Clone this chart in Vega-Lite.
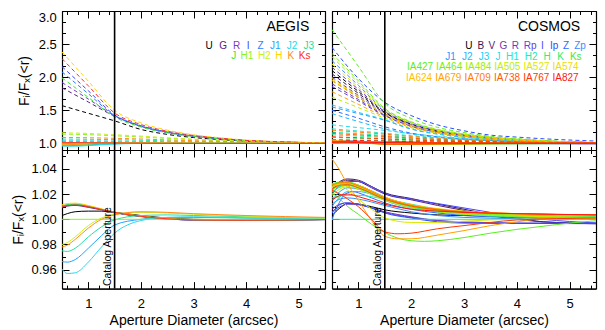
{
"$schema":"https://vega.github.io/schema/vega-lite/v6.json",
"background":"white",
"padding":{"left":11,"top":9,"right":4,"bottom":4},
"datasets":{
"aperture":[{"x":1.5,"label":"Catalog Aperture"}],
"aegis":[
{"b":"U","k":"r","x":0.5,"y":1.57},{"b":"U","k":"r","x":1,"y":1.455},{"b":"U","k":"r","x":1.5,"y":1.34},{"b":"U","k":"r","x":2,"y":1.211},{"b":"U","k":"r","x":2.5,"y":1.136},{"b":"U","k":"r","x":3,"y":1.088},{"b":"U","k":"r","x":3.5,"y":1.058},{"b":"U","k":"r","x":4,"y":1.034},{"b":"U","k":"r","x":4.5,"y":1.02},{"b":"U","k":"r","x":5.5,"y":1.005},
{"b":"G","k":"r","x":0.5,"y":1.84},{"b":"G","k":"r","x":1,"y":1.625},{"b":"G","k":"r","x":1.5,"y":1.41},{"b":"G","k":"r","x":2,"y":1.254},{"b":"G","k":"r","x":2.5,"y":1.164},{"b":"G","k":"r","x":3,"y":1.107},{"b":"G","k":"r","x":3.5,"y":1.07},{"b":"G","k":"r","x":4,"y":1.041},{"b":"G","k":"r","x":4.5,"y":1.025},{"b":"G","k":"r","x":5.5,"y":1.006},
{"b":"R","k":"r","x":0.5,"y":1.92},{"b":"R","k":"r","x":1,"y":1.67},{"b":"R","k":"r","x":1.5,"y":1.42},{"b":"R","k":"r","x":2,"y":1.26},{"b":"R","k":"r","x":2.5,"y":1.168},{"b":"R","k":"r","x":3,"y":1.109},{"b":"R","k":"r","x":3.5,"y":1.071},{"b":"R","k":"r","x":4,"y":1.042},{"b":"R","k":"r","x":4.5,"y":1.025},{"b":"R","k":"r","x":5.5,"y":1.006},
{"b":"I","k":"r","x":0.5,"y":2.16},{"b":"I","k":"r","x":1,"y":1.795},{"b":"I","k":"r","x":1.5,"y":1.43},{"b":"I","k":"r","x":2,"y":1.267},{"b":"I","k":"r","x":2.5,"y":1.172},{"b":"I","k":"r","x":3,"y":1.112},{"b":"I","k":"r","x":3.5,"y":1.073},{"b":"I","k":"r","x":4,"y":1.043},{"b":"I","k":"r","x":4.5,"y":1.026},{"b":"I","k":"r","x":5.5,"y":1.006},
{"b":"Z","k":"r","x":0.5,"y":2.08},{"b":"Z","k":"r","x":1,"y":1.75},{"b":"Z","k":"r","x":1.5,"y":1.42},{"b":"Z","k":"r","x":2,"y":1.26},{"b":"Z","k":"r","x":2.5,"y":1.168},{"b":"Z","k":"r","x":3,"y":1.109},{"b":"Z","k":"r","x":3.5,"y":1.071},{"b":"Z","k":"r","x":4,"y":1.042},{"b":"Z","k":"r","x":4.5,"y":1.025},{"b":"Z","k":"r","x":5.5,"y":1.006},
{"b":"J1","k":"r","x":0.5,"y":1.025},{"b":"J1","k":"r","x":1,"y":1.024},{"b":"J1","k":"r","x":1.5,"y":1.022},{"b":"J1","k":"r","x":2,"y":1.019},{"b":"J1","k":"r","x":2.5,"y":1.015},{"b":"J1","k":"r","x":3,"y":1.012},{"b":"J1","k":"r","x":3.5,"y":1.009},{"b":"J1","k":"r","x":4,"y":1.006},{"b":"J1","k":"r","x":4.5,"y":1.004},{"b":"J1","k":"r","x":5.5,"y":1.001},
{"b":"J2","k":"r","x":0.5,"y":1.04},{"b":"J2","k":"r","x":1,"y":1.039},{"b":"J2","k":"r","x":1.5,"y":1.036},{"b":"J2","k":"r","x":2,"y":1.031},{"b":"J2","k":"r","x":2.5,"y":1.025},{"b":"J2","k":"r","x":3,"y":1.019},{"b":"J2","k":"r","x":3.5,"y":1.014},{"b":"J2","k":"r","x":4,"y":1.01},{"b":"J2","k":"r","x":4.5,"y":1.007},{"b":"J2","k":"r","x":5.5,"y":1.002},
{"b":"J3","k":"r","x":0.5,"y":1.065},{"b":"J3","k":"r","x":1,"y":1.062},{"b":"J3","k":"r","x":1.5,"y":1.056},{"b":"J3","k":"r","x":2,"y":1.048},{"b":"J3","k":"r","x":2.5,"y":1.038},{"b":"J3","k":"r","x":3,"y":1.03},{"b":"J3","k":"r","x":3.5,"y":1.022},{"b":"J3","k":"r","x":4,"y":1.016},{"b":"J3","k":"r","x":4.5,"y":1.011},{"b":"J3","k":"r","x":5.5,"y":1.004},
{"b":"J","k":"r","x":0.5,"y":1.99},{"b":"J","k":"r","x":1,"y":1.695},{"b":"J","k":"r","x":1.5,"y":1.4},{"b":"J","k":"r","x":2,"y":1.248},{"b":"J","k":"r","x":2.5,"y":1.16},{"b":"J","k":"r","x":3,"y":1.104},{"b":"J","k":"r","x":3.5,"y":1.068},{"b":"J","k":"r","x":4,"y":1.04},{"b":"J","k":"r","x":4.5,"y":1.024},{"b":"J","k":"r","x":5.5,"y":1.006},
{"b":"H1","k":"r","x":0.5,"y":1.14},{"b":"H1","k":"r","x":1,"y":1.132},{"b":"H1","k":"r","x":1.5,"y":1.115},{"b":"H1","k":"r","x":2,"y":1.097},{"b":"H1","k":"r","x":2.5,"y":1.076},{"b":"H1","k":"r","x":3,"y":1.058},{"b":"H1","k":"r","x":3.5,"y":1.043},{"b":"H1","k":"r","x":4,"y":1.03},{"b":"H1","k":"r","x":4.5,"y":1.02},{"b":"H1","k":"r","x":5.5,"y":1.007},
{"b":"H2","k":"r","x":0.5,"y":1.16},{"b":"H2","k":"r","x":1,"y":1.15},{"b":"H2","k":"r","x":1.5,"y":1.13},{"b":"H2","k":"r","x":2,"y":1.11},{"b":"H2","k":"r","x":2.5,"y":1.085},{"b":"H2","k":"r","x":3,"y":1.065},{"b":"H2","k":"r","x":3.5,"y":1.048},{"b":"H2","k":"r","x":4,"y":1.033},{"b":"H2","k":"r","x":4.5,"y":1.022},{"b":"H2","k":"r","x":5.5,"y":1.008},
{"b":"H","k":"r","x":0.5,"y":2.38},{"b":"H","k":"r","x":1,"y":1.94},{"b":"H","k":"r","x":1.5,"y":1.5},{"b":"H","k":"r","x":2,"y":1.31},{"b":"H","k":"r","x":2.5,"y":1.2},{"b":"H","k":"r","x":3,"y":1.13},{"b":"H","k":"r","x":3.5,"y":1.085},{"b":"H","k":"r","x":4,"y":1.05},{"b":"H","k":"r","x":4.5,"y":1.03},{"b":"H","k":"r","x":5.5,"y":1.008},
{"b":"K","k":"r","x":0.5,"y":1.09},{"b":"K","k":"r","x":1,"y":1.085},{"b":"K","k":"r","x":1.5,"y":1.077},{"b":"K","k":"r","x":2,"y":1.066},{"b":"K","k":"r","x":2.5,"y":1.053},{"b":"K","k":"r","x":3,"y":1.041},{"b":"K","k":"r","x":3.5,"y":1.031},{"b":"K","k":"r","x":4,"y":1.022},{"b":"K","k":"r","x":4.5,"y":1.015},{"b":"K","k":"r","x":5.5,"y":1.005},
{"b":"Ks","k":"r","x":0.5,"y":2.28},{"b":"Ks","k":"r","x":1,"y":1.87},{"b":"Ks","k":"r","x":1.5,"y":1.46},{"b":"Ks","k":"r","x":2,"y":1.285},{"b":"Ks","k":"r","x":2.5,"y":1.184},{"b":"Ks","k":"r","x":3,"y":1.12},{"b":"Ks","k":"r","x":3.5,"y":1.078},{"b":"Ks","k":"r","x":4,"y":1.046},{"b":"Ks","k":"r","x":4.5,"y":1.028},{"b":"Ks","k":"r","x":5.5,"y":1.007},
{"b":"U","k":"p","x":0.5,"y":1.003},{"b":"U","k":"p","x":0.6,"y":1.0045},{"b":"U","k":"p","x":0.75,"y":1.006},{"b":"U","k":"p","x":1,"y":1.0065},{"b":"U","k":"p","x":1.25,"y":1.0065},{"b":"U","k":"p","x":1.5,"y":1.0055},{"b":"U","k":"p","x":2,"y":1.003},{"b":"U","k":"p","x":2.5,"y":1.001},{"b":"U","k":"p","x":3,"y":1.0},{"b":"U","k":"p","x":4,"y":0.9995},{"b":"U","k":"p","x":5.5,"y":1.0},
{"b":"G","k":"p","x":0.5,"y":1.0095},{"b":"G","k":"p","x":0.6,"y":1.0105},{"b":"G","k":"p","x":0.75,"y":1.011},{"b":"G","k":"p","x":1,"y":1.0095},{"b":"G","k":"p","x":1.25,"y":1.0075},{"b":"G","k":"p","x":1.5,"y":1.0052},{"b":"G","k":"p","x":2,"y":1.0022},{"b":"G","k":"p","x":2.5,"y":1.0003},{"b":"G","k":"p","x":3,"y":0.9994},{"b":"G","k":"p","x":4,"y":0.9992},{"b":"G","k":"p","x":5.5,"y":0.9998},
{"b":"R","k":"p","x":0.5,"y":1.01},{"b":"R","k":"p","x":0.6,"y":1.011},{"b":"R","k":"p","x":0.75,"y":1.0115},{"b":"R","k":"p","x":1,"y":1.01},{"b":"R","k":"p","x":1.25,"y":1.0078},{"b":"R","k":"p","x":1.5,"y":1.0054},{"b":"R","k":"p","x":2,"y":1.0023},{"b":"R","k":"p","x":2.5,"y":1.0004},{"b":"R","k":"p","x":3,"y":0.9994},{"b":"R","k":"p","x":4,"y":0.9992},{"b":"R","k":"p","x":5.5,"y":0.9998},
{"b":"I","k":"p","x":0.5,"y":1.0105},{"b":"I","k":"p","x":0.6,"y":1.0115},{"b":"I","k":"p","x":0.75,"y":1.012},{"b":"I","k":"p","x":1,"y":1.0105},{"b":"I","k":"p","x":1.25,"y":1.008},{"b":"I","k":"p","x":1.5,"y":1.0055},{"b":"I","k":"p","x":2,"y":1.0024},{"b":"I","k":"p","x":2.5,"y":1.0004},{"b":"I","k":"p","x":3,"y":0.9995},{"b":"I","k":"p","x":4,"y":0.9992},{"b":"I","k":"p","x":5.5,"y":0.9998},
{"b":"Z","k":"p","x":0.5,"y":1.01},{"b":"Z","k":"p","x":0.6,"y":1.0112},{"b":"Z","k":"p","x":0.75,"y":1.0118},{"b":"Z","k":"p","x":1,"y":1.0103},{"b":"Z","k":"p","x":1.25,"y":1.0079},{"b":"Z","k":"p","x":1.5,"y":1.0055},{"b":"Z","k":"p","x":2,"y":1.0024},{"b":"Z","k":"p","x":2.5,"y":1.0004},{"b":"Z","k":"p","x":3,"y":0.9995},{"b":"Z","k":"p","x":4,"y":0.9992},{"b":"Z","k":"p","x":5.5,"y":0.9998},
{"b":"J1","k":"p","x":0.5,"y":0.9665},{"b":"J1","k":"p","x":0.6,"y":0.966},{"b":"J1","k":"p","x":0.75,"y":0.968},{"b":"J1","k":"p","x":1,"y":0.977},{"b":"J1","k":"p","x":1.25,"y":0.987},{"b":"J1","k":"p","x":1.5,"y":0.9955},{"b":"J1","k":"p","x":2,"y":1.0},{"b":"J1","k":"p","x":2.5,"y":1.0015},{"b":"J1","k":"p","x":3,"y":1.0015},{"b":"J1","k":"p","x":4,"y":1.001},{"b":"J1","k":"p","x":5.5,"y":1.0},
{"b":"J2","k":"p","x":0.5,"y":0.9605},{"b":"J2","k":"p","x":0.6,"y":0.957},{"b":"J2","k":"p","x":0.75,"y":0.9575},{"b":"J2","k":"p","x":1,"y":0.966},{"b":"J2","k":"p","x":1.25,"y":0.978},{"b":"J2","k":"p","x":1.5,"y":0.989},{"b":"J2","k":"p","x":2,"y":0.999},{"b":"J2","k":"p","x":2.5,"y":1.0015},{"b":"J2","k":"p","x":3,"y":1.002},{"b":"J2","k":"p","x":4,"y":1.001},{"b":"J2","k":"p","x":5.5,"y":1.0},
{"b":"J3","k":"p","x":0.5,"y":0.975},{"b":"J3","k":"p","x":0.6,"y":0.9745},{"b":"J3","k":"p","x":0.75,"y":0.977},{"b":"J3","k":"p","x":1,"y":0.986},{"b":"J3","k":"p","x":1.25,"y":0.994},{"b":"J3","k":"p","x":1.5,"y":0.9995},{"b":"J3","k":"p","x":2,"y":1.003},{"b":"J3","k":"p","x":2.5,"y":1.0035},{"b":"J3","k":"p","x":3,"y":1.003},{"b":"J3","k":"p","x":4,"y":1.002},{"b":"J3","k":"p","x":5.5,"y":1.001},
{"b":"J","k":"p","x":0.5,"y":1.0105},{"b":"J","k":"p","x":0.6,"y":1.0115},{"b":"J","k":"p","x":0.75,"y":1.012},{"b":"J","k":"p","x":1,"y":1.0104},{"b":"J","k":"p","x":1.25,"y":1.008},{"b":"J","k":"p","x":1.5,"y":1.0056},{"b":"J","k":"p","x":2,"y":1.0025},{"b":"J","k":"p","x":2.5,"y":1.0005},{"b":"J","k":"p","x":3,"y":0.9996},{"b":"J","k":"p","x":4,"y":0.9993},{"b":"J","k":"p","x":5.5,"y":0.9998},
{"b":"H1","k":"p","x":0.5,"y":1.0},{"b":"H1","k":"p","x":3,"y":1.0},{"b":"H1","k":"p","x":5.5,"y":1.0},
{"b":"H2","k":"p","x":0.5,"y":0.98},{"b":"H2","k":"p","x":0.6,"y":0.9815},{"b":"H2","k":"p","x":0.75,"y":0.986},{"b":"H2","k":"p","x":1,"y":0.995},{"b":"H2","k":"p","x":1.25,"y":1.001},{"b":"H2","k":"p","x":1.5,"y":1.004},{"b":"H2","k":"p","x":2,"y":1.0055},{"b":"H2","k":"p","x":2.5,"y":1.005},{"b":"H2","k":"p","x":3,"y":1.004},{"b":"H2","k":"p","x":4,"y":1.0025},{"b":"H2","k":"p","x":5.5,"y":1.001},
{"b":"H","k":"p","x":0.5,"y":1.0115},{"b":"H","k":"p","x":0.6,"y":1.0125},{"b":"H","k":"p","x":0.75,"y":1.0128},{"b":"H","k":"p","x":1,"y":1.011},{"b":"H","k":"p","x":1.25,"y":1.0083},{"b":"H","k":"p","x":1.5,"y":1.0057},{"b":"H","k":"p","x":2,"y":1.0026},{"b":"H","k":"p","x":2.5,"y":1.0006},{"b":"H","k":"p","x":3,"y":0.9997},{"b":"H","k":"p","x":4,"y":0.9994},{"b":"H","k":"p","x":5.5,"y":0.9999},
{"b":"K","k":"p","x":0.5,"y":0.978},{"b":"K","k":"p","x":0.6,"y":0.9795},{"b":"K","k":"p","x":0.75,"y":0.984},{"b":"K","k":"p","x":1,"y":0.993},{"b":"K","k":"p","x":1.25,"y":1.0},{"b":"K","k":"p","x":1.5,"y":1.0035},{"b":"K","k":"p","x":2,"y":1.006},{"b":"K","k":"p","x":2.5,"y":1.0055},{"b":"K","k":"p","x":3,"y":1.0045},{"b":"K","k":"p","x":4,"y":1.003},{"b":"K","k":"p","x":5.5,"y":1.0015},
{"b":"Ks","k":"p","x":0.5,"y":1.0098},{"b":"Ks","k":"p","x":0.6,"y":1.0108},{"b":"Ks","k":"p","x":0.75,"y":1.0113},{"b":"Ks","k":"p","x":1,"y":1.01},{"b":"Ks","k":"p","x":1.25,"y":1.0078},{"b":"Ks","k":"p","x":1.5,"y":1.0055},{"b":"Ks","k":"p","x":2,"y":1.0024},{"b":"Ks","k":"p","x":2.5,"y":1.0004},{"b":"Ks","k":"p","x":3,"y":0.9995},{"b":"Ks","k":"p","x":4,"y":0.9992},{"b":"Ks","k":"p","x":5.5,"y":0.9998}
],
"cosmos":[
{"b":"U","k":"r","x":0.5,"y":2.1},{"b":"U","k":"r","x":1,"y":1.785},{"b":"U","k":"r","x":1.5,"y":1.47},{"b":"U","k":"r","x":2,"y":1.291},{"b":"U","k":"r","x":2.5,"y":1.188},{"b":"U","k":"r","x":3,"y":1.127},{"b":"U","k":"r","x":3.5,"y":1.085},{"b":"U","k":"r","x":4,"y":1.056},{"b":"U","k":"r","x":4.5,"y":1.035},{"b":"U","k":"r","x":5.5,"y":1.009},
{"b":"B","k":"r","x":0.5,"y":2.05},{"b":"B","k":"r","x":1,"y":1.755},{"b":"B","k":"r","x":1.5,"y":1.459},{"b":"B","k":"r","x":2,"y":1.285},{"b":"B","k":"r","x":2.5,"y":1.184},{"b":"B","k":"r","x":3,"y":1.124},{"b":"B","k":"r","x":3.5,"y":1.083},{"b":"B","k":"r","x":4,"y":1.055},{"b":"B","k":"r","x":4.5,"y":1.034},{"b":"B","k":"r","x":5.5,"y":1.009},
{"b":"V","k":"r","x":0.5,"y":1.95},{"b":"V","k":"r","x":1,"y":1.694},{"b":"V","k":"r","x":1.5,"y":1.437},{"b":"V","k":"r","x":2,"y":1.271},{"b":"V","k":"r","x":2.5,"y":1.175},{"b":"V","k":"r","x":3,"y":1.118},{"b":"V","k":"r","x":3.5,"y":1.079},{"b":"V","k":"r","x":4,"y":1.052},{"b":"V","k":"r","x":4.5,"y":1.033},{"b":"V","k":"r","x":5.5,"y":1.009},
{"b":"G","k":"r","x":0.5,"y":1.9},{"b":"G","k":"r","x":1,"y":1.663},{"b":"G","k":"r","x":1.5,"y":1.426},{"b":"G","k":"r","x":2,"y":1.264},{"b":"G","k":"r","x":2.5,"y":1.17},{"b":"G","k":"r","x":3,"y":1.115},{"b":"G","k":"r","x":3.5,"y":1.077},{"b":"G","k":"r","x":4,"y":1.051},{"b":"G","k":"r","x":4.5,"y":1.032},{"b":"G","k":"r","x":5.5,"y":1.009},
{"b":"R","k":"r","x":0.5,"y":2.15},{"b":"R","k":"r","x":1,"y":1.816},{"b":"R","k":"r","x":1.5,"y":1.481},{"b":"R","k":"r","x":2,"y":1.298},{"b":"R","k":"r","x":2.5,"y":1.192},{"b":"R","k":"r","x":3,"y":1.13},{"b":"R","k":"r","x":3.5,"y":1.087},{"b":"R","k":"r","x":4,"y":1.058},{"b":"R","k":"r","x":4.5,"y":1.036},{"b":"R","k":"r","x":5.5,"y":1.01},
{"b":"Rp","k":"r","x":0.5,"y":1.86},{"b":"Rp","k":"r","x":1,"y":1.639},{"b":"Rp","k":"r","x":1.5,"y":1.417},{"b":"Rp","k":"r","x":2,"y":1.259},{"b":"Rp","k":"r","x":2.5,"y":1.167},{"b":"Rp","k":"r","x":3,"y":1.113},{"b":"Rp","k":"r","x":3.5,"y":1.075},{"b":"Rp","k":"r","x":4,"y":1.05},{"b":"Rp","k":"r","x":4.5,"y":1.031},{"b":"Rp","k":"r","x":5.5,"y":1.008},
{"b":"I","k":"r","x":0.5,"y":2.0},{"b":"I","k":"r","x":1,"y":1.724},{"b":"I","k":"r","x":1.5,"y":1.448},{"b":"I","k":"r","x":2,"y":1.278},{"b":"I","k":"r","x":2.5,"y":1.179},{"b":"I","k":"r","x":3,"y":1.121},{"b":"I","k":"r","x":3.5,"y":1.081},{"b":"I","k":"r","x":4,"y":1.054},{"b":"I","k":"r","x":4.5,"y":1.034},{"b":"I","k":"r","x":5.5,"y":1.009},
{"b":"Ip","k":"r","x":0.5,"y":2.45},{"b":"Ip","k":"r","x":1,"y":1.98},{"b":"Ip","k":"r","x":1.5,"y":1.62},{"b":"Ip","k":"r","x":2,"y":1.42},{"b":"Ip","k":"r","x":2.5,"y":1.28},{"b":"Ip","k":"r","x":3,"y":1.19},{"b":"Ip","k":"r","x":3.5,"y":1.125},{"b":"Ip","k":"r","x":4,"y":1.095},{"b":"Ip","k":"r","x":4.5,"y":1.07},{"b":"Ip","k":"r","x":5.5,"y":1.035},
{"b":"Z","k":"r","x":0.5,"y":1.5},{"b":"Z","k":"r","x":1,"y":1.38},{"b":"Z","k":"r","x":1.5,"y":1.25},{"b":"Z","k":"r","x":2,"y":1.155},{"b":"Z","k":"r","x":2.5,"y":1.1},{"b":"Z","k":"r","x":3,"y":1.068},{"b":"Z","k":"r","x":3.5,"y":1.045},{"b":"Z","k":"r","x":4,"y":1.03},{"b":"Z","k":"r","x":4.5,"y":1.019},{"b":"Z","k":"r","x":5.5,"y":1.005},
{"b":"Zp","k":"r","x":0.5,"y":2.25},{"b":"Zp","k":"r","x":1,"y":1.877},{"b":"Zp","k":"r","x":1.5,"y":1.503},{"b":"Zp","k":"r","x":2,"y":1.312},{"b":"Zp","k":"r","x":2.5,"y":1.201},{"b":"Zp","k":"r","x":3,"y":1.136},{"b":"Zp","k":"r","x":3.5,"y":1.091},{"b":"Zp","k":"r","x":4,"y":1.06},{"b":"Zp","k":"r","x":4.5,"y":1.038},{"b":"Zp","k":"r","x":5.5,"y":1.01},
{"b":"J1","k":"r","x":0.5,"y":1.55},{"b":"J1","k":"r","x":1,"y":1.45},{"b":"J1","k":"r","x":1.5,"y":1.349},{"b":"J1","k":"r","x":2,"y":1.216},{"b":"J1","k":"r","x":2.5,"y":1.14},{"b":"J1","k":"r","x":3,"y":1.094},{"b":"J1","k":"r","x":3.5,"y":1.063},{"b":"J1","k":"r","x":4,"y":1.042},{"b":"J1","k":"r","x":4.5,"y":1.026},{"b":"J1","k":"r","x":5.5,"y":1.007},
{"b":"J2","k":"r","x":0.5,"y":1.45},{"b":"J2","k":"r","x":1,"y":1.33},{"b":"J2","k":"r","x":1.5,"y":1.22},{"b":"J2","k":"r","x":2,"y":1.14},{"b":"J2","k":"r","x":2.5,"y":1.09},{"b":"J2","k":"r","x":3,"y":1.06},{"b":"J2","k":"r","x":3.5,"y":1.04},{"b":"J2","k":"r","x":4,"y":1.027},{"b":"J2","k":"r","x":4.5,"y":1.017},{"b":"J2","k":"r","x":5.5,"y":1.004},
{"b":"J3","k":"r","x":0.5,"y":1.58},{"b":"J3","k":"r","x":1,"y":1.468},{"b":"J3","k":"r","x":1.5,"y":1.356},{"b":"J3","k":"r","x":2,"y":1.221},{"b":"J3","k":"r","x":2.5,"y":1.142},{"b":"J3","k":"r","x":3,"y":1.096},{"b":"J3","k":"r","x":3.5,"y":1.064},{"b":"J3","k":"r","x":4,"y":1.043},{"b":"J3","k":"r","x":4.5,"y":1.027},{"b":"J3","k":"r","x":5.5,"y":1.007},
{"b":"J","k":"r","x":0.5,"y":1.28},{"b":"J","k":"r","x":1,"y":1.238},{"b":"J","k":"r","x":1.5,"y":1.196},{"b":"J","k":"r","x":2,"y":1.147},{"b":"J","k":"r","x":2.5,"y":1.108},{"b":"J","k":"r","x":3,"y":1.078},{"b":"J","k":"r","x":3.5,"y":1.057},{"b":"J","k":"r","x":4,"y":1.039},{"b":"J","k":"r","x":4.5,"y":1.025},{"b":"J","k":"r","x":5.5,"y":1.01},
{"b":"H1","k":"r","x":0.5,"y":1.22},{"b":"H1","k":"r","x":1,"y":1.187},{"b":"H1","k":"r","x":1.5,"y":1.154},{"b":"H1","k":"r","x":2,"y":1.116},{"b":"H1","k":"r","x":2.5,"y":1.085},{"b":"H1","k":"r","x":3,"y":1.062},{"b":"H1","k":"r","x":3.5,"y":1.045},{"b":"H1","k":"r","x":4,"y":1.031},{"b":"H1","k":"r","x":4.5,"y":1.02},{"b":"H1","k":"r","x":5.5,"y":1.008},
{"b":"H2","k":"r","x":0.5,"y":1.17},{"b":"H2","k":"r","x":1,"y":1.145},{"b":"H2","k":"r","x":1.5,"y":1.119},{"b":"H2","k":"r","x":2,"y":1.089},{"b":"H2","k":"r","x":2.5,"y":1.065},{"b":"H2","k":"r","x":3,"y":1.048},{"b":"H2","k":"r","x":3.5,"y":1.035},{"b":"H2","k":"r","x":4,"y":1.024},{"b":"H2","k":"r","x":4.5,"y":1.015},{"b":"H2","k":"r","x":5.5,"y":1.006},
{"b":"H","k":"r","x":0.5,"y":1.13},{"b":"H","k":"r","x":1,"y":1.11},{"b":"H","k":"r","x":1.5,"y":1.091},{"b":"H","k":"r","x":2,"y":1.068},{"b":"H","k":"r","x":2.5,"y":1.05},{"b":"H","k":"r","x":3,"y":1.036},{"b":"H","k":"r","x":3.5,"y":1.026},{"b":"H","k":"r","x":4,"y":1.018},{"b":"H","k":"r","x":4.5,"y":1.012},{"b":"H","k":"r","x":5.5,"y":1.005},
{"b":"K","k":"r","x":0.5,"y":1.09},{"b":"K","k":"r","x":1,"y":1.077},{"b":"K","k":"r","x":1.5,"y":1.063},{"b":"K","k":"r","x":2,"y":1.047},{"b":"K","k":"r","x":2.5,"y":1.035},{"b":"K","k":"r","x":3,"y":1.025},{"b":"K","k":"r","x":3.5,"y":1.018},{"b":"K","k":"r","x":4,"y":1.013},{"b":"K","k":"r","x":4.5,"y":1.008},{"b":"K","k":"r","x":5.5,"y":1.003},
{"b":"Ks","k":"r","x":0.5,"y":1.06},{"b":"Ks","k":"r","x":1,"y":1.051},{"b":"Ks","k":"r","x":1.5,"y":1.042},{"b":"Ks","k":"r","x":2,"y":1.032},{"b":"Ks","k":"r","x":2.5,"y":1.023},{"b":"Ks","k":"r","x":3,"y":1.017},{"b":"Ks","k":"r","x":3.5,"y":1.012},{"b":"Ks","k":"r","x":4,"y":1.008},{"b":"Ks","k":"r","x":4.5,"y":1.005},{"b":"Ks","k":"r","x":5.5,"y":1.002},
{"b":"IA427","k":"r","x":0.5,"y":2.72},{"b":"IA427","k":"r","x":1,"y":2.163},{"b":"IA427","k":"r","x":1.5,"y":1.606},{"b":"IA427","k":"r","x":2,"y":1.376},{"b":"IA427","k":"r","x":2.5,"y":1.242},{"b":"IA427","k":"r","x":3,"y":1.164},{"b":"IA427","k":"r","x":3.5,"y":1.109},{"b":"IA427","k":"r","x":4,"y":1.073},{"b":"IA427","k":"r","x":4.5,"y":1.045},{"b":"IA427","k":"r","x":5.5,"y":1.012},
{"b":"IA464","k":"r","x":0.5,"y":2.36},{"b":"IA464","k":"r","x":1,"y":1.944},{"b":"IA464","k":"r","x":1.5,"y":1.527},{"b":"IA464","k":"r","x":2,"y":1.327},{"b":"IA464","k":"r","x":2.5,"y":1.211},{"b":"IA464","k":"r","x":3,"y":1.142},{"b":"IA464","k":"r","x":3.5,"y":1.095},{"b":"IA464","k":"r","x":4,"y":1.063},{"b":"IA464","k":"r","x":4.5,"y":1.04},{"b":"IA464","k":"r","x":5.5,"y":1.011},
{"b":"IA484","k":"r","x":0.5,"y":2.31},{"b":"IA484","k":"r","x":1,"y":1.913},{"b":"IA484","k":"r","x":1.5,"y":1.516},{"b":"IA484","k":"r","x":2,"y":1.32},{"b":"IA484","k":"r","x":2.5,"y":1.206},{"b":"IA484","k":"r","x":3,"y":1.139},{"b":"IA484","k":"r","x":3.5,"y":1.093},{"b":"IA484","k":"r","x":4,"y":1.062},{"b":"IA484","k":"r","x":4.5,"y":1.039},{"b":"IA484","k":"r","x":5.5,"y":1.01},
{"b":"IA505","k":"r","x":0.5,"y":1.7},{"b":"IA505","k":"r","x":1,"y":1.541},{"b":"IA505","k":"r","x":1.5,"y":1.382},{"b":"IA505","k":"r","x":2,"y":1.237},{"b":"IA505","k":"r","x":2.5,"y":1.153},{"b":"IA505","k":"r","x":3,"y":1.103},{"b":"IA505","k":"r","x":3.5,"y":1.069},{"b":"IA505","k":"r","x":4,"y":1.046},{"b":"IA505","k":"r","x":4.5,"y":1.029},{"b":"IA505","k":"r","x":5.5,"y":1.008},
{"b":"IA527","k":"r","x":0.5,"y":2.2},{"b":"IA527","k":"r","x":1,"y":1.846},{"b":"IA527","k":"r","x":1.5,"y":1.492},{"b":"IA527","k":"r","x":2,"y":1.305},{"b":"IA527","k":"r","x":2.5,"y":1.197},{"b":"IA527","k":"r","x":3,"y":1.133},{"b":"IA527","k":"r","x":3.5,"y":1.089},{"b":"IA527","k":"r","x":4,"y":1.059},{"b":"IA527","k":"r","x":4.5,"y":1.037},{"b":"IA527","k":"r","x":5.5,"y":1.01},
{"b":"IA574","k":"r","x":0.5,"y":1.95},{"b":"IA574","k":"r","x":1,"y":1.694},{"b":"IA574","k":"r","x":1.5,"y":1.437},{"b":"IA574","k":"r","x":2,"y":1.271},{"b":"IA574","k":"r","x":2.5,"y":1.175},{"b":"IA574","k":"r","x":3,"y":1.118},{"b":"IA574","k":"r","x":3.5,"y":1.079},{"b":"IA574","k":"r","x":4,"y":1.052},{"b":"IA574","k":"r","x":4.5,"y":1.033},{"b":"IA574","k":"r","x":5.5,"y":1.009},
{"b":"IA624","k":"r","x":0.5,"y":1.98},{"b":"IA624","k":"r","x":1,"y":1.712},{"b":"IA624","k":"r","x":1.5,"y":1.444},{"b":"IA624","k":"r","x":2,"y":1.275},{"b":"IA624","k":"r","x":2.5,"y":1.178},{"b":"IA624","k":"r","x":3,"y":1.12},{"b":"IA624","k":"r","x":3.5,"y":1.08},{"b":"IA624","k":"r","x":4,"y":1.053},{"b":"IA624","k":"r","x":4.5,"y":1.033},{"b":"IA624","k":"r","x":5.5,"y":1.009},
{"b":"IA679","k":"r","x":0.5,"y":1.78},{"b":"IA679","k":"r","x":1,"y":1.59},{"b":"IA679","k":"r","x":1.5,"y":1.4},{"b":"IA679","k":"r","x":2,"y":1.248},{"b":"IA679","k":"r","x":2.5,"y":1.16},{"b":"IA679","k":"r","x":3,"y":1.108},{"b":"IA679","k":"r","x":3.5,"y":1.072},{"b":"IA679","k":"r","x":4,"y":1.048},{"b":"IA679","k":"r","x":4.5,"y":1.03},{"b":"IA679","k":"r","x":5.5,"y":1.008},
{"b":"IA709","k":"r","x":0.5,"y":1.2},{"b":"IA709","k":"r","x":1,"y":1.17},{"b":"IA709","k":"r","x":1.5,"y":1.14},{"b":"IA709","k":"r","x":2,"y":1.105},{"b":"IA709","k":"r","x":2.5,"y":1.077},{"b":"IA709","k":"r","x":3,"y":1.056},{"b":"IA709","k":"r","x":3.5,"y":1.041},{"b":"IA709","k":"r","x":4,"y":1.028},{"b":"IA709","k":"r","x":4.5,"y":1.018},{"b":"IA709","k":"r","x":5.5,"y":1.007},
{"b":"IA738","k":"r","x":0.5,"y":1.15},{"b":"IA738","k":"r","x":1,"y":1.128},{"b":"IA738","k":"r","x":1.5,"y":1.105},{"b":"IA738","k":"r","x":2,"y":1.079},{"b":"IA738","k":"r","x":2.5,"y":1.058},{"b":"IA738","k":"r","x":3,"y":1.042},{"b":"IA738","k":"r","x":3.5,"y":1.03},{"b":"IA738","k":"r","x":4,"y":1.021},{"b":"IA738","k":"r","x":4.5,"y":1.014},{"b":"IA738","k":"r","x":5.5,"y":1.005},
{"b":"IA767","k":"r","x":0.5,"y":1.1},{"b":"IA767","k":"r","x":1,"y":1.085},{"b":"IA767","k":"r","x":1.5,"y":1.07},{"b":"IA767","k":"r","x":2,"y":1.053},{"b":"IA767","k":"r","x":2.5,"y":1.039},{"b":"IA767","k":"r","x":3,"y":1.028},{"b":"IA767","k":"r","x":3.5,"y":1.02},{"b":"IA767","k":"r","x":4,"y":1.014},{"b":"IA767","k":"r","x":4.5,"y":1.009},{"b":"IA767","k":"r","x":5.5,"y":1.004},
{"b":"IA827","k":"r","x":0.5,"y":1.05},{"b":"IA827","k":"r","x":1,"y":1.043},{"b":"IA827","k":"r","x":1.5,"y":1.035},{"b":"IA827","k":"r","x":2,"y":1.026},{"b":"IA827","k":"r","x":2.5,"y":1.019},{"b":"IA827","k":"r","x":3,"y":1.014},{"b":"IA827","k":"r","x":3.5,"y":1.01},{"b":"IA827","k":"r","x":4,"y":1.007},{"b":"IA827","k":"r","x":4.5,"y":1.005},{"b":"IA827","k":"r","x":5.5,"y":1.002},
{"b":"U","k":"p","x":0.5,"y":1.003},{"b":"U","k":"p","x":0.65,"y":1.009},{"b":"U","k":"p","x":0.8,"y":1.0125},{"b":"U","k":"p","x":1,"y":1.012},{"b":"U","k":"p","x":1.25,"y":1.01},{"b":"U","k":"p","x":1.5,"y":1.0075},{"b":"U","k":"p","x":2,"y":1.005},{"b":"U","k":"p","x":2.5,"y":1.0035},{"b":"U","k":"p","x":3,"y":1.003},{"b":"U","k":"p","x":4,"y":1.0025},{"b":"U","k":"p","x":5.5,"y":1.002},
{"b":"B","k":"p","x":0.5,"y":1.024},{"b":"B","k":"p","x":0.65,"y":1.03},{"b":"B","k":"p","x":0.8,"y":1.032},{"b":"B","k":"p","x":1,"y":1.031},{"b":"B","k":"p","x":1.25,"y":1.026},{"b":"B","k":"p","x":1.5,"y":1.021},{"b":"B","k":"p","x":2,"y":1.0165},{"b":"B","k":"p","x":2.5,"y":1.012},{"b":"B","k":"p","x":3,"y":1.008},{"b":"B","k":"p","x":3.5,"y":1.004},{"b":"B","k":"p","x":4,"y":1.001},{"b":"B","k":"p","x":4.5,"y":0.998},{"b":"B","k":"p","x":5.5,"y":0.9965},
{"b":"V","k":"p","x":0.5,"y":1.023},{"b":"V","k":"p","x":0.65,"y":1.029},{"b":"V","k":"p","x":0.8,"y":1.031},{"b":"V","k":"p","x":1,"y":1.03},{"b":"V","k":"p","x":1.25,"y":1.025},{"b":"V","k":"p","x":1.5,"y":1.02},{"b":"V","k":"p","x":2,"y":1.0155},{"b":"V","k":"p","x":2.5,"y":1.011},{"b":"V","k":"p","x":3,"y":1.007},{"b":"V","k":"p","x":3.5,"y":1.003},{"b":"V","k":"p","x":4,"y":1.0},{"b":"V","k":"p","x":4.5,"y":0.998},{"b":"V","k":"p","x":5.5,"y":0.9968},
{"b":"G","k":"p","x":0.5,"y":1.008},{"b":"G","k":"p","x":0.65,"y":1.012},{"b":"G","k":"p","x":0.8,"y":1.013},{"b":"G","k":"p","x":1,"y":1.012},{"b":"G","k":"p","x":1.25,"y":1.009},{"b":"G","k":"p","x":1.5,"y":1.006},{"b":"G","k":"p","x":2,"y":1.002},{"b":"G","k":"p","x":2.5,"y":0.999},{"b":"G","k":"p","x":3,"y":0.9975},{"b":"G","k":"p","x":3.5,"y":0.997},{"b":"G","k":"p","x":4,"y":0.9968},{"b":"G","k":"p","x":5.5,"y":0.9965},
{"b":"R","k":"p","x":0.5,"y":1.025},{"b":"R","k":"p","x":0.65,"y":1.028},{"b":"R","k":"p","x":0.8,"y":1.029},{"b":"R","k":"p","x":1,"y":1.027},{"b":"R","k":"p","x":1.25,"y":1.0225},{"b":"R","k":"p","x":1.5,"y":1.0175},{"b":"R","k":"p","x":2,"y":1.0115},{"b":"R","k":"p","x":2.5,"y":1.008},{"b":"R","k":"p","x":3,"y":1.006},{"b":"R","k":"p","x":3.5,"y":1.0045},{"b":"R","k":"p","x":4,"y":1.0035},{"b":"R","k":"p","x":5.5,"y":1.002},
{"b":"Rp","k":"p","x":0.5,"y":1.006},{"b":"Rp","k":"p","x":0.65,"y":1.01},{"b":"Rp","k":"p","x":0.8,"y":1.012},{"b":"Rp","k":"p","x":1,"y":1.0115},{"b":"Rp","k":"p","x":1.25,"y":1.009},{"b":"Rp","k":"p","x":1.5,"y":1.0055},{"b":"Rp","k":"p","x":2,"y":1.0015},{"b":"Rp","k":"p","x":2.5,"y":0.999},{"b":"Rp","k":"p","x":3,"y":0.998},{"b":"Rp","k":"p","x":4,"y":0.997},{"b":"Rp","k":"p","x":5.5,"y":0.9968},
{"b":"I","k":"p","x":0.5,"y":1.02},{"b":"I","k":"p","x":0.65,"y":1.027},{"b":"I","k":"p","x":0.8,"y":1.03},{"b":"I","k":"p","x":1,"y":1.03},{"b":"I","k":"p","x":1.25,"y":1.026},{"b":"I","k":"p","x":1.5,"y":1.0205},{"b":"I","k":"p","x":2,"y":1.016},{"b":"I","k":"p","x":2.5,"y":1.0125},{"b":"I","k":"p","x":3,"y":1.009},{"b":"I","k":"p","x":3.5,"y":1.0055},{"b":"I","k":"p","x":4,"y":1.0025},{"b":"I","k":"p","x":4.5,"y":1.0},{"b":"I","k":"p","x":5.5,"y":0.997},
{"b":"Ip","k":"p","x":0.5,"y":1.005},{"b":"Ip","k":"p","x":0.6,"y":1.01},{"b":"Ip","k":"p","x":0.75,"y":1.013},{"b":"Ip","k":"p","x":1,"y":1.012},{"b":"Ip","k":"p","x":1.25,"y":1.009},{"b":"Ip","k":"p","x":1.5,"y":1.005},{"b":"Ip","k":"p","x":2,"y":1.001},{"b":"Ip","k":"p","x":2.5,"y":0.998},{"b":"Ip","k":"p","x":3,"y":0.997},{"b":"Ip","k":"p","x":4,"y":0.9968},{"b":"Ip","k":"p","x":5.5,"y":0.997},
{"b":"Z","k":"p","x":0.5,"y":1.0},{"b":"Z","k":"p","x":0.6,"y":1.01},{"b":"Z","k":"p","x":0.75,"y":1.02},{"b":"Z","k":"p","x":0.9,"y":1.022},{"b":"Z","k":"p","x":1,"y":1.021},{"b":"Z","k":"p","x":1.25,"y":1.017},{"b":"Z","k":"p","x":1.5,"y":1.013},{"b":"Z","k":"p","x":2,"y":1.008},{"b":"Z","k":"p","x":2.5,"y":1.005},{"b":"Z","k":"p","x":3,"y":1.003},{"b":"Z","k":"p","x":4,"y":1.0015},{"b":"Z","k":"p","x":5.5,"y":1.001},
{"b":"Zp","k":"p","x":0.5,"y":1.012},{"b":"Zp","k":"p","x":0.65,"y":1.016},{"b":"Zp","k":"p","x":0.8,"y":1.017},{"b":"Zp","k":"p","x":1,"y":1.016},{"b":"Zp","k":"p","x":1.5,"y":1.011},{"b":"Zp","k":"p","x":2,"y":1.006},{"b":"Zp","k":"p","x":2.5,"y":1.003},{"b":"Zp","k":"p","x":3,"y":1.0015},{"b":"Zp","k":"p","x":4,"y":1.0005},{"b":"Zp","k":"p","x":5.5,"y":1.0},
{"b":"J1","k":"p","x":0.5,"y":1.015},{"b":"J1","k":"p","x":0.65,"y":1.022},{"b":"J1","k":"p","x":0.8,"y":1.025},{"b":"J1","k":"p","x":1,"y":1.024},{"b":"J1","k":"p","x":1.25,"y":1.02},{"b":"J1","k":"p","x":1.5,"y":1.015},{"b":"J1","k":"p","x":2,"y":1.009},{"b":"J1","k":"p","x":2.5,"y":1.006},{"b":"J1","k":"p","x":3,"y":1.004},{"b":"J1","k":"p","x":4,"y":1.0025},{"b":"J1","k":"p","x":5.5,"y":1.0015},
{"b":"J2","k":"p","x":0.5,"y":1.01},{"b":"J2","k":"p","x":0.65,"y":1.018},{"b":"J2","k":"p","x":0.8,"y":1.022},{"b":"J2","k":"p","x":1,"y":1.022},{"b":"J2","k":"p","x":1.5,"y":1.016},{"b":"J2","k":"p","x":2,"y":1.01},{"b":"J2","k":"p","x":2.5,"y":1.006},{"b":"J2","k":"p","x":3,"y":1.004},{"b":"J2","k":"p","x":4,"y":1.002},{"b":"J2","k":"p","x":5.5,"y":1.001},
{"b":"J3","k":"p","x":0.5,"y":1.026},{"b":"J3","k":"p","x":0.65,"y":1.028},{"b":"J3","k":"p","x":0.8,"y":1.028},{"b":"J3","k":"p","x":1,"y":1.026},{"b":"J3","k":"p","x":1.25,"y":1.022},{"b":"J3","k":"p","x":1.5,"y":1.017},{"b":"J3","k":"p","x":2,"y":1.011},{"b":"J3","k":"p","x":2.5,"y":1.007},{"b":"J3","k":"p","x":3,"y":1.005},{"b":"J3","k":"p","x":4,"y":1.003},{"b":"J3","k":"p","x":5.5,"y":1.002},
{"b":"J","k":"p","x":0.5,"y":1.024},{"b":"J","k":"p","x":0.8,"y":1.027},{"b":"J","k":"p","x":1,"y":1.025},{"b":"J","k":"p","x":1.5,"y":1.016},{"b":"J","k":"p","x":2,"y":1.01},{"b":"J","k":"p","x":2.5,"y":1.007},{"b":"J","k":"p","x":3,"y":1.005},{"b":"J","k":"p","x":4,"y":1.003},{"b":"J","k":"p","x":5.5,"y":1.002},
{"b":"H1","k":"p","x":0.5,"y":1.026},{"b":"H1","k":"p","x":0.65,"y":1.029},{"b":"H1","k":"p","x":0.8,"y":1.0295},{"b":"H1","k":"p","x":1,"y":1.027},{"b":"H1","k":"p","x":1.25,"y":1.0225},{"b":"H1","k":"p","x":1.5,"y":1.0175},{"b":"H1","k":"p","x":2,"y":1.011},{"b":"H1","k":"p","x":2.5,"y":1.008},{"b":"H1","k":"p","x":3,"y":1.006},{"b":"H1","k":"p","x":4,"y":1.004},{"b":"H1","k":"p","x":5.5,"y":1.003},
{"b":"H2","k":"p","x":0.5,"y":1.017},{"b":"H2","k":"p","x":0.8,"y":1.019},{"b":"H2","k":"p","x":1,"y":1.019},{"b":"H2","k":"p","x":1.5,"y":1.016},{"b":"H2","k":"p","x":2,"y":1.012},{"b":"H2","k":"p","x":2.5,"y":1.008},{"b":"H2","k":"p","x":3,"y":1.005},{"b":"H2","k":"p","x":4,"y":1.003},{"b":"H2","k":"p","x":5.5,"y":1.002},
{"b":"H","k":"p","x":0.5,"y":1.0},{"b":"H","k":"p","x":3,"y":1.0},{"b":"H","k":"p","x":5.5,"y":1.0},
{"b":"K","k":"p","x":0.5,"y":1.022},{"b":"K","k":"p","x":0.8,"y":1.027},{"b":"K","k":"p","x":1,"y":1.025},{"b":"K","k":"p","x":1.5,"y":1.016},{"b":"K","k":"p","x":2,"y":1.01},{"b":"K","k":"p","x":2.5,"y":1.006},{"b":"K","k":"p","x":3,"y":1.004},{"b":"K","k":"p","x":4,"y":1.002},{"b":"K","k":"p","x":5.5,"y":1.0005},
{"b":"Ks","k":"p","x":0.5,"y":1.028},{"b":"Ks","k":"p","x":0.65,"y":1.0295},{"b":"Ks","k":"p","x":0.8,"y":1.029},{"b":"Ks","k":"p","x":1,"y":1.026},{"b":"Ks","k":"p","x":1.5,"y":1.016},{"b":"Ks","k":"p","x":2,"y":1.0105},{"b":"Ks","k":"p","x":2.5,"y":1.0075},{"b":"Ks","k":"p","x":3,"y":1.0055},{"b":"Ks","k":"p","x":4,"y":1.0035},{"b":"Ks","k":"p","x":5.5,"y":1.0025},
{"b":"IA427","k":"p","x":0.5,"y":1.021},{"b":"IA427","k":"p","x":0.65,"y":1.016},{"b":"IA427","k":"p","x":0.8,"y":1.01},{"b":"IA427","k":"p","x":1,"y":1.004},{"b":"IA427","k":"p","x":1.25,"y":0.996},{"b":"IA427","k":"p","x":1.5,"y":0.9895},{"b":"IA427","k":"p","x":1.75,"y":0.985},{"b":"IA427","k":"p","x":2,"y":0.983},{"b":"IA427","k":"p","x":2.25,"y":0.9825},{"b":"IA427","k":"p","x":2.5,"y":0.983},{"b":"IA427","k":"p","x":3,"y":0.9855},{"b":"IA427","k":"p","x":3.5,"y":0.989},{"b":"IA427","k":"p","x":4,"y":0.992},{"b":"IA427","k":"p","x":4.5,"y":0.9945},{"b":"IA427","k":"p","x":5,"y":0.997},{"b":"IA427","k":"p","x":5.5,"y":0.9988},
{"b":"IA464","k":"p","x":0.5,"y":1.027},{"b":"IA464","k":"p","x":0.65,"y":1.029},{"b":"IA464","k":"p","x":0.8,"y":1.0295},{"b":"IA464","k":"p","x":1,"y":1.027},{"b":"IA464","k":"p","x":1.25,"y":1.022},{"b":"IA464","k":"p","x":1.5,"y":1.017},{"b":"IA464","k":"p","x":2,"y":1.011},{"b":"IA464","k":"p","x":2.5,"y":1.008},{"b":"IA464","k":"p","x":3,"y":1.006},{"b":"IA464","k":"p","x":4,"y":1.004},{"b":"IA464","k":"p","x":5.5,"y":1.003},
{"b":"IA484","k":"p","x":0.5,"y":1.023},{"b":"IA484","k":"p","x":0.65,"y":1.027},{"b":"IA484","k":"p","x":0.8,"y":1.028},{"b":"IA484","k":"p","x":1,"y":1.026},{"b":"IA484","k":"p","x":1.5,"y":1.0165},{"b":"IA484","k":"p","x":2,"y":1.0105},{"b":"IA484","k":"p","x":2.5,"y":1.007},{"b":"IA484","k":"p","x":3,"y":1.005},{"b":"IA484","k":"p","x":4,"y":1.003},{"b":"IA484","k":"p","x":5.5,"y":1.0015},
{"b":"IA505","k":"p","x":0.5,"y":1.019},{"b":"IA505","k":"p","x":0.65,"y":1.024},{"b":"IA505","k":"p","x":0.8,"y":1.026},{"b":"IA505","k":"p","x":1,"y":1.024},{"b":"IA505","k":"p","x":1.5,"y":1.015},{"b":"IA505","k":"p","x":2,"y":1.009},{"b":"IA505","k":"p","x":2.5,"y":1.006},{"b":"IA505","k":"p","x":3,"y":1.004},{"b":"IA505","k":"p","x":4,"y":1.0025},{"b":"IA505","k":"p","x":5.5,"y":1.0015},
{"b":"IA527","k":"p","x":0.5,"y":1.028},{"b":"IA527","k":"p","x":0.65,"y":1.027},{"b":"IA527","k":"p","x":0.8,"y":1.023},{"b":"IA527","k":"p","x":1,"y":1.016},{"b":"IA527","k":"p","x":1.25,"y":1.008},{"b":"IA527","k":"p","x":1.5,"y":1.001},{"b":"IA527","k":"p","x":2,"y":0.9975},{"b":"IA527","k":"p","x":2.5,"y":0.9975},{"b":"IA527","k":"p","x":3,"y":0.9985},{"b":"IA527","k":"p","x":3.5,"y":0.9995},{"b":"IA527","k":"p","x":4,"y":1.0},{"b":"IA527","k":"p","x":5.5,"y":1.0005},
{"b":"IA574","k":"p","x":0.5,"y":1.025},{"b":"IA574","k":"p","x":0.65,"y":1.028},{"b":"IA574","k":"p","x":0.8,"y":1.0285},{"b":"IA574","k":"p","x":1,"y":1.026},{"b":"IA574","k":"p","x":1.5,"y":1.017},{"b":"IA574","k":"p","x":2,"y":1.0115},{"b":"IA574","k":"p","x":2.5,"y":1.0085},{"b":"IA574","k":"p","x":3,"y":1.0065},{"b":"IA574","k":"p","x":4,"y":1.0045},{"b":"IA574","k":"p","x":5.5,"y":1.003},
{"b":"IA624","k":"p","x":0.5,"y":1.026},{"b":"IA624","k":"p","x":0.65,"y":1.0285},{"b":"IA624","k":"p","x":0.8,"y":1.029},{"b":"IA624","k":"p","x":1,"y":1.027},{"b":"IA624","k":"p","x":1.5,"y":1.0175},{"b":"IA624","k":"p","x":2,"y":1.0115},{"b":"IA624","k":"p","x":2.5,"y":1.008},{"b":"IA624","k":"p","x":3,"y":1.006},{"b":"IA624","k":"p","x":4,"y":1.004},{"b":"IA624","k":"p","x":5.5,"y":1.003},
{"b":"IA679","k":"p","x":0.5,"y":1.048},{"b":"IA679","k":"p","x":0.6,"y":1.042},{"b":"IA679","k":"p","x":0.75,"y":1.031},{"b":"IA679","k":"p","x":1,"y":1.015},{"b":"IA679","k":"p","x":1.25,"y":0.999},{"b":"IA679","k":"p","x":1.5,"y":0.9865},{"b":"IA679","k":"p","x":1.75,"y":0.9845},{"b":"IA679","k":"p","x":2,"y":0.9845},{"b":"IA679","k":"p","x":2.5,"y":0.9875},{"b":"IA679","k":"p","x":3,"y":0.991},{"b":"IA679","k":"p","x":3.5,"y":0.995},{"b":"IA679","k":"p","x":4,"y":0.998},{"b":"IA679","k":"p","x":4.5,"y":1.0005},{"b":"IA679","k":"p","x":5.5,"y":1.0015},
{"b":"IA709","k":"p","x":0.5,"y":1.027},{"b":"IA709","k":"p","x":0.65,"y":1.029},{"b":"IA709","k":"p","x":0.8,"y":1.029},{"b":"IA709","k":"p","x":1,"y":1.0265},{"b":"IA709","k":"p","x":1.5,"y":1.017},{"b":"IA709","k":"p","x":2,"y":1.011},{"b":"IA709","k":"p","x":2.5,"y":1.008},{"b":"IA709","k":"p","x":3,"y":1.006},{"b":"IA709","k":"p","x":4,"y":1.0045},{"b":"IA709","k":"p","x":5.5,"y":1.0035},
{"b":"IA738","k":"p","x":0.5,"y":1.024},{"b":"IA738","k":"p","x":0.65,"y":1.027},{"b":"IA738","k":"p","x":0.8,"y":1.0275},{"b":"IA738","k":"p","x":1,"y":1.025},{"b":"IA738","k":"p","x":1.5,"y":1.016},{"b":"IA738","k":"p","x":2,"y":1.0105},{"b":"IA738","k":"p","x":2.5,"y":1.0075},{"b":"IA738","k":"p","x":3,"y":1.0058},{"b":"IA738","k":"p","x":4,"y":1.0045},{"b":"IA738","k":"p","x":5.5,"y":1.0035},
{"b":"IA767","k":"p","x":0.5,"y":1.023},{"b":"IA767","k":"p","x":0.65,"y":1.02},{"b":"IA767","k":"p","x":0.8,"y":1.016},{"b":"IA767","k":"p","x":1,"y":1.01},{"b":"IA767","k":"p","x":1.25,"y":1.0},{"b":"IA767","k":"p","x":1.5,"y":0.99},{"b":"IA767","k":"p","x":1.75,"y":0.9885},{"b":"IA767","k":"p","x":2,"y":0.989},{"b":"IA767","k":"p","x":2.5,"y":0.9925},{"b":"IA767","k":"p","x":3,"y":0.995},{"b":"IA767","k":"p","x":3.5,"y":0.9975},{"b":"IA767","k":"p","x":4,"y":0.9995},{"b":"IA767","k":"p","x":5.5,"y":1.001},
{"b":"IA827","k":"p","x":0.5,"y":1.015},{"b":"IA827","k":"p","x":0.65,"y":1.019},{"b":"IA827","k":"p","x":0.8,"y":1.02},{"b":"IA827","k":"p","x":1,"y":1.018},{"b":"IA827","k":"p","x":1.5,"y":1.012},{"b":"IA827","k":"p","x":2,"y":1.008},{"b":"IA827","k":"p","x":2.5,"y":1.0065},{"b":"IA827","k":"p","x":3,"y":1.0055},{"b":"IA827","k":"p","x":4,"y":1.0045},{"b":"IA827","k":"p","x":5.5,"y":1.0035}
]
},
"columns":2,
"spacing":{"row":0,"column":7},
"bounds":"flush",
"align":"each",
"concat":[
{
"width":263,"height":139,
"layer":[
{"data":{"name":"aegis"},"transform":[{"filter":{"field":"b","oneOf":["U","G","R","I","Z","J1","J2","J3"]}}],
"mark":{"type":"line","interpolate":"monotone","strokeWidth":1,"clip":true},
"encoding":{
"x":{"field":"x","type":"quantitative","scale":{"domain":[0.5,5.5],"nice":false,"zero":false},"axis":{"orient":"bottom","offset":0,"values":[0.6,0.8,1,1.2,1.4,1.6,1.8,2,2.2,2.4,2.6,2.8,3,3.2,3.4,3.6,3.8,4,4.2,4.4,4.6,4.8,5,5.2,5.4],"labels":false,"title":null,"tickSize":{"condition":{"test":"abs(datum.value-round(datum.value))<0.01","value":-7},"value":-3.5}}},
"y":{"field":"y","type":"quantitative","scale":{"domain":[0.9,3.0],"nice":false,"zero":false},"axis":{"orient":"left","offset":0,"minExtent":0,"values":[1,1.16667,1.33333,1.5,1.66667,1.83333,2,2.16667,2.33333,2.5,2.66667,2.83333,3],"labelExpr":"abs(datum.value*2-round(datum.value*2))<0.01 ? format(datum.value,'.1f') : ''","labelOverlap":false,"labelFlush":true,"labelPadding":12.7,"labelFontSize":13,"title":"Fᵢ/Fₓ(<r)","titleFontSize":14,"titlePadding":7,"tickSize":{"condition":{"test":"abs(datum.value*2-round(datum.value*2))<0.01","value":-7},"value":-3.5}}},
"color":{"field":"b","type":"nominal","scale":{"domain":["U","G","R","I","Z","J1","J2","J3"],"range":["#000000","#5c1a7e","#7a3cc8","#3c46ff","#2f7cff","#1ea4ff","#25d8f0","#22e0a0"]},
"legend":{"orient":"none","legendX":148.6,"legendY":30,"direction":"horizontal","gridAlign":"none","symbolSize":0,"symbolType":"circle","symbolStrokeWidth":0,"symbolOffset":-5,"labelOffset":-10,"padding":0,"title":null,"columnPadding":5.7,"labelColor":{"expr":"['#000000','#5c1a7e','#7a3cc8','#3c46ff','#2f7cff','#1ea4ff','#25d8f0','#22e0a0'][indexof(['U','G','R','I','Z','J1','J2','J3'],datum.value)]"}}},
"strokeDash":{"field":"k","type":"nominal","scale":{"domain":["r","p"],"range":[[4,3],[1,0]]},"legend":null}}},
{"data":{"name":"aegis"},"transform":[{"filter":{"field":"b","oneOf":["J","H1","H2","H","K","Ks"]}}],
"mark":{"type":"line","interpolate":"monotone","strokeWidth":1,"clip":true},
"encoding":{
"x":{"field":"x","type":"quantitative","scale":{"domain":[0.5,5.5],"nice":false,"zero":false},"axis":{"orient":"top","offset":0,"values":[0.6,0.8,1,1.2,1.4,1.6,1.8,2,2.2,2.4,2.6,2.8,3,3.2,3.4,3.6,3.8,4,4.2,4.4,4.6,4.8,5,5.2,5.4],"labels":false,"title":null,"tickSize":{"condition":{"test":"abs(datum.value-round(datum.value))<0.01","value":-7},"value":-3.5}}},
"y":{"field":"y","type":"quantitative","scale":{"domain":[0.9,3.0],"nice":false,"zero":false},"axis":{"orient":"right","offset":0,"minExtent":0,"values":[1,1.16667,1.33333,1.5,1.66667,1.83333,2,2.16667,2.33333,2.5,2.66667,2.83333,3],"labels":false,"title":null,"tickSize":{"condition":{"test":"abs(datum.value*2-round(datum.value*2))<0.01","value":-7},"value":-3.5}}},
"color":{"field":"b","type":"nominal","scale":{"domain":["J","H1","H2","H","K","Ks"],"range":["#3ee63a","#8cf21a","#c8f020","#ffd400","#ff8c1a","#ff2a2a"]},
"legend":{"orient":"none","legendX":174.3,"legendY":40,"direction":"horizontal","gridAlign":"none","symbolSize":0,"symbolType":"circle","symbolStrokeWidth":0,"symbolOffset":-5,"labelOffset":-10,"padding":0,"title":null,"columnPadding":4.3,"labelColor":{"expr":"['#3ee63a','#8cf21a','#c8f020','#ffd400','#ff8c1a','#ff2a2a'][indexof(['J','H1','H2','H','K','Ks'],datum.value)]"}}},
"strokeDash":{"field":"k","type":"nominal","scale":{"domain":["r","p"],"range":[[4,3],[1,0]]},"legend":null}}},
{"data":{"name":"aperture"},"mark":{"type":"rule","color":"black","strokeWidth":1.6},"encoding":{"x":{"field":"x","type":"quantitative","scale":{"domain":[0.5,5.5],"nice":false,"zero":false},"axis":null}}},
{"data":{"values":[{"survey":"AEGIS"}]},"mark":{"type":"text","align":"right","baseline":"middle","fontSize":14,"color":"black"},"encoding":{"x":{"datum":5.2,"type":"quantitative","scale":{"domain":[0.5,5.5],"nice":false,"zero":false},"axis":null},"y":{"datum":2.755,"type":"quantitative","scale":{"domain":[0.9,3.0],"nice":false,"zero":false},"axis":null},"text":{"field":"survey"}}}
],
"resolve":{"scale":{"color":"independent"},"axis":{"x":"independent","y":"independent"}}
},
{
"width":264,"height":139,
"layer":[
{"data":{"name":"cosmos"},"transform":[{"filter":{"field":"b","oneOf":["U","B","V","G","R","Rp","I","Ip","Z","Zp"]}}],
"mark":{"type":"line","interpolate":"monotone","strokeWidth":1,"clip":true},
"encoding":{
"x":{"field":"x","type":"quantitative","scale":{"domain":[0.5,5.5],"nice":false,"zero":false},"axis":{"orient":"bottom","offset":0,"values":[0.6,0.8,1,1.2,1.4,1.6,1.8,2,2.2,2.4,2.6,2.8,3,3.2,3.4,3.6,3.8,4,4.2,4.4,4.6,4.8,5,5.2,5.4],"labels":false,"title":null,"tickSize":{"condition":{"test":"abs(datum.value-round(datum.value))<0.01","value":-7},"value":-3.5}}},
"y":{"field":"y","type":"quantitative","scale":{"domain":[0.9,3.0],"nice":false,"zero":false},"axis":{"orient":"left","offset":0,"minExtent":0,"values":[1,1.16667,1.33333,1.5,1.66667,1.83333,2,2.16667,2.33333,2.5,2.66667,2.83333,3],"labels":false,"title":null,"tickSize":{"condition":{"test":"abs(datum.value*2-round(datum.value*2))<0.01","value":-7},"value":-3.5}}},
"color":{"field":"b","type":"nominal","scale":{"domain":["U","B","V","G","R","Rp","I","Ip","Z","Zp"],"range":["#000000","#3a1650","#561c78","#7a36a8","#6c3cc0","#5e44dc","#4646ff","#2c4cff","#2f6cff","#3a8cff"]},
"legend":{"orient":"none","legendX":138.3,"legendY":30,"direction":"horizontal","gridAlign":"none","symbolSize":0,"symbolType":"circle","symbolStrokeWidth":0,"symbolOffset":-5,"labelOffset":-10,"padding":0,"title":null,"columnPadding":4.1,"labelColor":{"expr":"['#000000','#3a1650','#561c78','#7a36a8','#6c3cc0','#5e44dc','#4646ff','#2c4cff','#2f6cff','#3a8cff'][indexof(['U','B','V','G','R','Rp','I','Ip','Z','Zp'],datum.value)]"}}},
"strokeDash":{"field":"k","type":"nominal","scale":{"domain":["r","p"],"range":[[4,3],[1,0]]},"legend":null}}},
{"data":{"name":"cosmos"},"transform":[{"filter":{"field":"b","oneOf":["J1","J2","J3","J","H1","H2","H","K","Ks"]}}],
"mark":{"type":"line","interpolate":"monotone","strokeWidth":1,"clip":true},
"encoding":{
"x":{"field":"x","type":"quantitative","scale":{"domain":[0.5,5.5],"nice":false,"zero":false},"axis":{"orient":"top","offset":0,"values":[0.6,0.8,1,1.2,1.4,1.6,1.8,2,2.2,2.4,2.6,2.8,3,3.2,3.4,3.6,3.8,4,4.2,4.4,4.6,4.8,5,5.2,5.4],"labels":false,"title":null,"tickSize":{"condition":{"test":"abs(datum.value-round(datum.value))<0.01","value":-7},"value":-3.5}}},
"y":{"field":"y","type":"quantitative","scale":{"domain":[0.9,3.0],"nice":false,"zero":false},"axis":{"orient":"right","offset":0,"minExtent":0,"values":[1,1.16667,1.33333,1.5,1.66667,1.83333,2,2.16667,2.33333,2.5,2.66667,2.83333,3],"labels":false,"title":null,"tickSize":{"condition":{"test":"abs(datum.value*2-round(datum.value*2))<0.01","value":-7},"value":-3.5}}},
"color":{"field":"b","type":"nominal","scale":{"domain":["J1","J2","J3","J","H1","H2","H","K","Ks"],"range":["#1e9cff","#1eb4ff","#20ccff","#20dcec","#20e8cc","#22eab0","#28ec90","#30ec68","#3cea44"]},
"legend":{"orient":"none","legendX":118.3,"legendY":40.7,"direction":"horizontal","gridAlign":"none","symbolSize":0,"symbolType":"circle","symbolStrokeWidth":0,"symbolOffset":-5,"labelOffset":-10,"padding":0,"title":null,"columnPadding":5.7,"labelColor":{"expr":"['#1e9cff','#1eb4ff','#20ccff','#20dcec','#20e8cc','#22eab0','#28ec90','#30ec68','#3cea44'][indexof(['J1','J2','J3','J','H1','H2','H','K','Ks'],datum.value)]"}}},
"strokeDash":{"field":"k","type":"nominal","scale":{"domain":["r","p"],"range":[[4,3],[1,0]]},"legend":null}}},
{"data":{"name":"cosmos"},"transform":[{"filter":{"field":"b","oneOf":["IA427","IA464","IA484","IA505","IA527","IA574"]}}],
"mark":{"type":"line","interpolate":"monotone","strokeWidth":1,"clip":true},
"encoding":{
"x":{"field":"x","type":"quantitative","scale":{"domain":[0.5,5.5],"nice":false,"zero":false},"axis":null},
"y":{"field":"y","type":"quantitative","scale":{"domain":[0.9,3.0],"nice":false,"zero":false},"axis":null},
"color":{"field":"b","type":"nominal","scale":{"domain":["IA427","IA464","IA484","IA505","IA527","IA574"],"range":["#5aee20","#74f000","#98f000","#bcee00","#dce800","#f0dc00"]},
"legend":{"orient":"none","legendX":80,"legendY":51.4,"direction":"horizontal","gridAlign":"none","symbolSize":0,"symbolType":"circle","symbolStrokeWidth":0,"symbolOffset":-5,"labelOffset":-10,"padding":0,"title":null,"columnPadding":2.1,"labelColor":{"expr":"['#5aee20','#74f000','#98f000','#bcee00','#dce800','#f0dc00'][indexof(['IA427','IA464','IA484','IA505','IA527','IA574'],datum.value)]"}}},
"strokeDash":{"field":"k","type":"nominal","scale":{"domain":["r","p"],"range":[[4,3],[1,0]]},"legend":null}}},
{"data":{"name":"cosmos"},"transform":[{"filter":{"field":"b","oneOf":["IA624","IA679","IA709","IA738","IA767","IA827"]}}],
"mark":{"type":"line","interpolate":"monotone","strokeWidth":1,"clip":true},
"encoding":{
"x":{"field":"x","type":"quantitative","scale":{"domain":[0.5,5.5],"nice":false,"zero":false},"axis":null},
"y":{"field":"y","type":"quantitative","scale":{"domain":[0.9,3.0],"nice":false,"zero":false},"axis":null},
"color":{"field":"b","type":"nominal","scale":{"domain":["IA624","IA679","IA709","IA738","IA767","IA827"],"range":["#ffbe00","#ffa000","#ff7c00","#ff5a00","#ff3600","#ff1414"]},
"legend":{"orient":"none","legendX":79,"legendY":62.4,"direction":"horizontal","gridAlign":"none","symbolSize":0,"symbolType":"circle","symbolStrokeWidth":0,"symbolOffset":-5,"labelOffset":-10,"padding":0,"title":null,"columnPadding":2.3,"labelColor":{"expr":"['#ffbe00','#ffa000','#ff7c00','#ff5a00','#ff3600','#ff1414'][indexof(['IA624','IA679','IA709','IA738','IA767','IA827'],datum.value)]"}}},
"strokeDash":{"field":"k","type":"nominal","scale":{"domain":["r","p"],"range":[[4,3],[1,0]]},"legend":null}}},
{"data":{"name":"aperture"},"mark":{"type":"rule","color":"black","strokeWidth":1.6},"encoding":{"x":{"field":"x","type":"quantitative","scale":{"domain":[0.5,5.5],"nice":false,"zero":false},"axis":null}}},
{"data":{"values":[{"survey":"COSMOS"}]},"mark":{"type":"text","align":"right","baseline":"middle","fontSize":14,"color":"black"},"encoding":{"x":{"datum":5.2,"type":"quantitative","scale":{"domain":[0.5,5.5],"nice":false,"zero":false},"axis":null},"y":{"datum":2.752,"type":"quantitative","scale":{"domain":[0.9,3.0],"nice":false,"zero":false},"axis":null},"text":{"field":"survey"}}}
],
"resolve":{"scale":{"color":"independent"},"axis":{"x":"independent","y":"independent"}}
},
{
"width":263,"height":138.6,
"layer":[
{"data":{"name":"aegis"},"transform":[{"filter":{"field":"k","equal":"p"}},{"filter":{"field":"b","oneOf":["U","G","R","I","Z","J1","J2","J3"]}}],
"mark":{"type":"line","interpolate":"monotone","strokeWidth":1,"clip":true},
"encoding":{
"x":{"field":"x","type":"quantitative","scale":{"domain":[0.5,5.5],"nice":false,"zero":false},"axis":{"orient":"bottom","offset":0,"values":[0.6,0.8,1,1.2,1.4,1.6,1.8,2,2.2,2.4,2.6,2.8,3,3.2,3.4,3.6,3.8,4,4.2,4.4,4.6,4.8,5,5.2,5.4],"labelExpr":"abs(datum.value-round(datum.value))<0.01 ? format(datum.value,'d') : ''","labelOverlap":false,"labelFlush":false,"labelPadding":15.5,"labelFontSize":13,"title":"Aperture Diameter (arcsec)","titleFontSize":14,"titlePadding":0,"tickSize":{"condition":{"test":"abs(datum.value-round(datum.value))<0.01","value":-7},"value":-3.5}}},
"y":{"field":"y","type":"quantitative","scale":{"domain":[0.945,1.055],"nice":false,"zero":false},"axis":{"orient":"left","offset":0,"minExtent":0,"values":[0.95,0.96,0.97,0.98,0.99,1.0,1.01,1.02,1.03,1.04,1.05],"labelExpr":"abs(datum.value*50-round(datum.value*50))<0.01 ? format(datum.value,'.2f') : ''","labelOverlap":false,"labelPadding":12.7,"labelFontSize":13,"title":"Fᵢ/Fₓ(<r)","titleFontSize":14,"titlePadding":5,"tickSize":{"condition":{"test":"abs(datum.value*50-round(datum.value*50))<0.01","value":-7},"value":-3.5}}},
"color":{"field":"b","type":"nominal","scale":{"domain":["U","G","R","I","Z","J1","J2","J3"],"range":["#000000","#5c1a7e","#7a3cc8","#3c46ff","#2f7cff","#1ea4ff","#25d8f0","#22e0a0"]},"legend":null}}},
{"data":{"name":"aegis"},"transform":[{"filter":{"field":"k","equal":"p"}},{"filter":{"field":"b","oneOf":["J","H1","H2","H","K","Ks"]}}],
"mark":{"type":"line","interpolate":"monotone","strokeWidth":1,"clip":true},
"encoding":{
"x":{"field":"x","type":"quantitative","scale":{"domain":[0.5,5.5],"nice":false,"zero":false},"axis":{"orient":"top","offset":0,"values":[0.6,0.8,1,1.2,1.4,1.6,1.8,2,2.2,2.4,2.6,2.8,3,3.2,3.4,3.6,3.8,4,4.2,4.4,4.6,4.8,5,5.2,5.4],"labels":false,"title":null,"tickSize":{"condition":{"test":"abs(datum.value-round(datum.value))<0.01","value":-7},"value":-3.5}}},
"y":{"field":"y","type":"quantitative","scale":{"domain":[0.945,1.055],"nice":false,"zero":false},"axis":{"orient":"right","offset":0,"minExtent":0,"values":[0.95,0.96,0.97,0.98,0.99,1.0,1.01,1.02,1.03,1.04,1.05],"labels":false,"title":null,"tickSize":{"condition":{"test":"abs(datum.value*50-round(datum.value*50))<0.01","value":-7},"value":-3.5}}},
"color":{"field":"b","type":"nominal","scale":{"domain":["J","H1","H2","H","K","Ks"],"range":["#3ee63a","#8cf21a","#c8f020","#ffd400","#ff8c1a","#ff2a2a"]},"legend":null}}},
{"data":{"name":"aperture"},"mark":{"type":"rule","color":"black","strokeWidth":1.6},"encoding":{"x":{"field":"x","type":"quantitative","scale":{"domain":[0.5,5.5],"nice":false,"zero":false},"axis":null}}},
{"data":{"name":"aperture"},"mark":{"type":"text","angle":270,"align":"left","baseline":"alphabetic","dy":-4,"fontSize":10.5,"color":"black"},"encoding":{"x":{"field":"x","type":"quantitative","scale":{"domain":[0.5,5.5],"nice":false,"zero":false},"axis":null},"y":{"datum":0.947,"type":"quantitative","scale":{"domain":[0.945,1.055],"nice":false,"zero":false},"axis":null},"text":{"field":"label"}}}
],
"resolve":{"scale":{"color":"independent"},"axis":{"x":"independent","y":"independent"}}
},
{
"width":264,"height":138.6,
"layer":[
{"data":{"name":"cosmos"},"transform":[{"filter":{"field":"k","equal":"p"}},{"filter":{"field":"b","oneOf":["U","B","V","G","R","Rp","I","Ip","Z","Zp"]}}],
"mark":{"type":"line","interpolate":"monotone","strokeWidth":1,"clip":true},
"encoding":{
"x":{"field":"x","type":"quantitative","scale":{"domain":[0.5,5.5],"nice":false,"zero":false},"axis":{"orient":"bottom","offset":0,"values":[0.6,0.8,1,1.2,1.4,1.6,1.8,2,2.2,2.4,2.6,2.8,3,3.2,3.4,3.6,3.8,4,4.2,4.4,4.6,4.8,5,5.2,5.4],"labelExpr":"abs(datum.value-round(datum.value))<0.01 ? format(datum.value,'d') : ''","labelOverlap":false,"labelFlush":false,"labelPadding":15.5,"labelFontSize":13,"title":"Aperture Diameter (arcsec)","titleFontSize":14,"titlePadding":0,"tickSize":{"condition":{"test":"abs(datum.value-round(datum.value))<0.01","value":-7},"value":-3.5}}},
"y":{"field":"y","type":"quantitative","scale":{"domain":[0.945,1.055],"nice":false,"zero":false},"axis":{"orient":"left","offset":0,"minExtent":0,"values":[0.95,0.96,0.97,0.98,0.99,1.0,1.01,1.02,1.03,1.04,1.05],"labels":false,"title":null,"tickSize":{"condition":{"test":"abs(datum.value*50-round(datum.value*50))<0.01","value":-7},"value":-3.5}}},
"color":{"field":"b","type":"nominal","scale":{"domain":["U","B","V","G","R","Rp","I","Ip","Z","Zp"],"range":["#000000","#3a1650","#561c78","#7a36a8","#6c3cc0","#5e44dc","#4646ff","#2c4cff","#2f6cff","#3a8cff"]},"legend":null}}},
{"data":{"name":"cosmos"},"transform":[{"filter":{"field":"k","equal":"p"}},{"filter":{"field":"b","oneOf":["J1","J2","J3","J","H1","H2","H","K","Ks"]}}],
"mark":{"type":"line","interpolate":"monotone","strokeWidth":1,"clip":true},
"encoding":{
"x":{"field":"x","type":"quantitative","scale":{"domain":[0.5,5.5],"nice":false,"zero":false},"axis":{"orient":"top","offset":0,"values":[0.6,0.8,1,1.2,1.4,1.6,1.8,2,2.2,2.4,2.6,2.8,3,3.2,3.4,3.6,3.8,4,4.2,4.4,4.6,4.8,5,5.2,5.4],"labels":false,"title":null,"tickSize":{"condition":{"test":"abs(datum.value-round(datum.value))<0.01","value":-7},"value":-3.5}}},
"y":{"field":"y","type":"quantitative","scale":{"domain":[0.945,1.055],"nice":false,"zero":false},"axis":{"orient":"right","offset":0,"minExtent":0,"values":[0.95,0.96,0.97,0.98,0.99,1.0,1.01,1.02,1.03,1.04,1.05],"labels":false,"title":null,"tickSize":{"condition":{"test":"abs(datum.value*50-round(datum.value*50))<0.01","value":-7},"value":-3.5}}},
"color":{"field":"b","type":"nominal","scale":{"domain":["J1","J2","J3","J","H1","H2","H","K","Ks"],"range":["#1e9cff","#1eb4ff","#20ccff","#20dcec","#20e8cc","#22eab0","#28ec90","#30ec68","#3cea44"]},"legend":null}}},
{"data":{"name":"cosmos"},"transform":[{"filter":{"field":"k","equal":"p"}},{"filter":{"field":"b","oneOf":["IA427","IA464","IA484","IA505","IA527","IA574"]}}],
"mark":{"type":"line","interpolate":"monotone","strokeWidth":1,"clip":true},
"encoding":{
"x":{"field":"x","type":"quantitative","scale":{"domain":[0.5,5.5],"nice":false,"zero":false},"axis":null},
"y":{"field":"y","type":"quantitative","scale":{"domain":[0.945,1.055],"nice":false,"zero":false},"axis":null},
"color":{"field":"b","type":"nominal","scale":{"domain":["IA427","IA464","IA484","IA505","IA527","IA574"],"range":["#5aee20","#74f000","#98f000","#bcee00","#dce800","#f0dc00"]},"legend":null}}},
{"data":{"name":"cosmos"},"transform":[{"filter":{"field":"k","equal":"p"}},{"filter":{"field":"b","oneOf":["IA624","IA679","IA709","IA738","IA767","IA827"]}}],
"mark":{"type":"line","interpolate":"monotone","strokeWidth":1,"clip":true},
"encoding":{
"x":{"field":"x","type":"quantitative","scale":{"domain":[0.5,5.5],"nice":false,"zero":false},"axis":null},
"y":{"field":"y","type":"quantitative","scale":{"domain":[0.945,1.055],"nice":false,"zero":false},"axis":null},
"color":{"field":"b","type":"nominal","scale":{"domain":["IA624","IA679","IA709","IA738","IA767","IA827"],"range":["#ffbe00","#ffa000","#ff7c00","#ff5a00","#ff3600","#ff1414"]},"legend":null}}},
{"data":{"name":"aperture"},"mark":{"type":"rule","color":"black","strokeWidth":1.6},"encoding":{"x":{"field":"x","type":"quantitative","scale":{"domain":[0.5,5.5],"nice":false,"zero":false},"axis":null}}},
{"data":{"name":"aperture"},"mark":{"type":"text","angle":270,"align":"left","baseline":"alphabetic","dy":-4,"fontSize":10.5,"color":"black"},"encoding":{"x":{"field":"x","type":"quantitative","scale":{"domain":[0.5,5.5],"nice":false,"zero":false},"axis":null},"y":{"datum":0.947,"type":"quantitative","scale":{"domain":[0.945,1.055],"nice":false,"zero":false},"axis":null},"text":{"field":"label"}}}
],
"resolve":{"scale":{"color":"independent"},"axis":{"x":"independent","y":"independent"}}
}
],
"config":{
"font":"Liberation Sans",
"view":{"stroke":"black","strokeWidth":1},
"axis":{"grid":false,"domainColor":"black","domainWidth":1.2,"tickColor":"black","tickWidth":1,"labelColor":"black","titleColor":"black","titleFontWeight":"normal","labelFont":"Liberation Sans","titleFont":"Liberation Sans"},
"legend":{"labelFont":"Liberation Sans","labelFontSize":10,"titleFont":"Liberation Sans","symbolSize":0,"symbolStrokeWidth":0,"symbolOpacity":0,"padding":0,"rowPadding":0}
}
}
